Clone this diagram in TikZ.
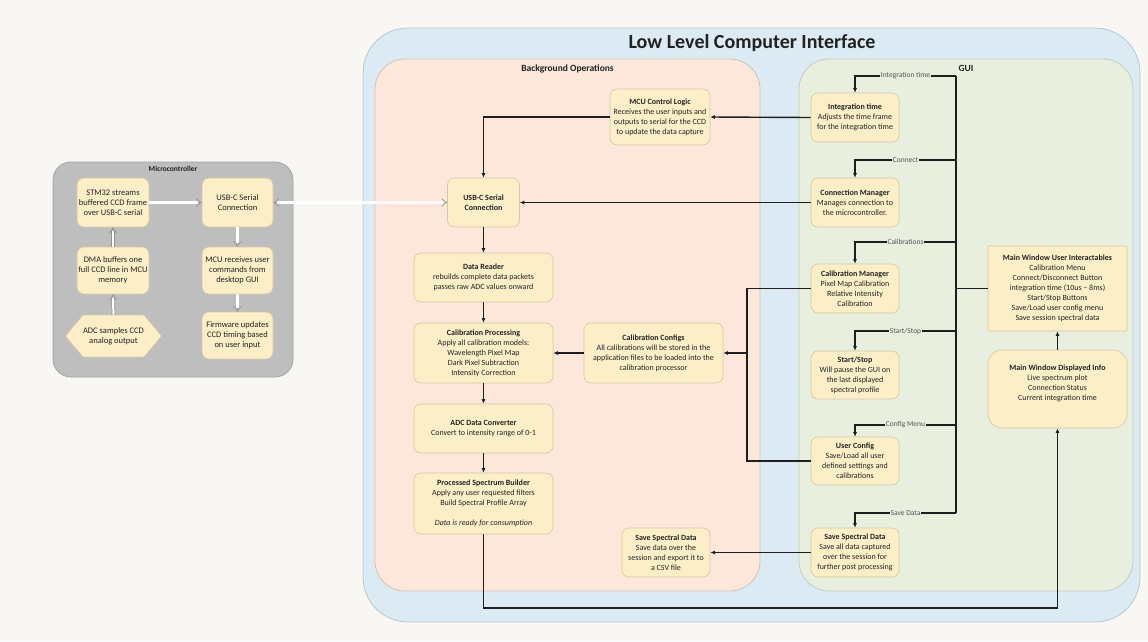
\documentclass[tikz,border=0pt]{standalone}
\usepackage{fontspec}
\setmainfont{Carlito}
\usetikzlibrary{arrows.meta,shapes.symbols}
\definecolor{pagebg}{HTML}{F8F7F3}
\definecolor{bluefill}{HTML}{DCEBF3}
\definecolor{blueline}{HTML}{B8C7CF}
\definecolor{peachfill}{HTML}{FCE7DA}
\definecolor{peachline}{HTML}{CFC3B8}
\definecolor{guifill}{HTML}{E9EFDF}
\definecolor{guiline}{HTML}{C6CCBE}
\definecolor{greyfill}{HTML}{BEBEBE}
\definecolor{greyline}{HTML}{A3A3A3}
\definecolor{boxfill}{HTML}{FCEFC8}
\definecolor{boxline}{HTML}{D5C7A1}
\definecolor{txt}{HTML}{222222}
\definecolor{wire}{HTML}{1E1E1E}
\definecolor{lbltxt}{HTML}{555555}
\definecolor{hollowline}{HTML}{8F8F8F}
\begin{document}
\begin{tikzpicture}[x=1pt,y=-1pt,
  panel/.style={rounded corners=#1, line width=0.8pt},
  box/.style={draw=boxline, fill=boxfill, rounded corners=7pt, align=center, inner sep=0pt, font=\fontsize{8}{10}\selectfont, text=txt, line width=0.6pt},
  mbox/.style={box, font=\fontsize{8.5}{10}\selectfont},
  wireline/.style={draw=wire, line width=1.4pt},
  arr/.style={wireline, -{Latex[length=4.5pt,width=4pt]}},
  hollow/.style={draw=hollowline, double=white, double distance=2.2pt, line width=0.7pt, -{Implies}},
  lbl/.style={fill=guifill, inner sep=1pt, font=\fontsize{7.5}{8}\selectfont, text=lbltxt},
  head/.style={font=\bfseries\fontsize{9.5}{11}\selectfont, text=txt},
]
\useasboundingbox (0,0) rectangle (1148,641);
\fill[pagebg] (0,0) rectangle (1148,641);

% panels
\node[panel=18pt, draw=greyline, fill=greyfill, minimum width=240, minimum height=215] (micro) at (173,269.5) {};
\node[font=\bfseries\fontsize{7.5}{9}\selectfont, text=txt] (microt) at (173,169) {Microcontroller};
\node[panel=45pt, draw=blueline, fill=bluefill, minimum width=777, minimum height=594] (lli) at (751.5,325) {};
\node[font=\bfseries\fontsize{20}{24}\selectfont, text=txt] (title) at (752,43) {Low Level Computer Interface};
\node[panel=30pt, draw=peachline, fill=peachfill, minimum width=385, minimum height=532] (bgops) at (567.5,325) {};
\node[head] (bgopst) at (567.5,69) {Background Operations};
\node[panel=30pt, draw=guiline, fill=guifill, minimum width=334, minimum height=532] (gui) at (966,325) {};
\node[head] (guit) at (966,68) {GUI};

% microcontroller boxes
\node[mbox, minimum width=72, minimum height=49] (stm) at (113,202.5) {STM32 streams\\buffered CCD frame\\over USB-C serial};
\node[mbox, minimum width=71, minimum height=49] (usbmc) at (237.5,202.5) {USB-C Serial\\Connection};
\node[mbox, minimum width=72, minimum height=47] (dma) at (113,270.5) {DMA buffers one\\full CCD line in MCU\\memory};
\node[mbox, minimum width=71, minimum height=47] (mcur) at (237.5,270.5) {MCU receives user\\commands from\\desktop GUI};
\node[mbox, shape=signal, signal to=east and west, signal pointer angle=100, rounded corners=1pt, minimum width=83, minimum height=42] (adcs) at (113.5,336) {ADC samples CCD\\analog output};
\node[mbox, minimum width=71, minimum height=47] (fw) at (237.5,335.5) {Firmware updates\\CCD timing based\\on user input};

% background operations boxes
\node[box, minimum width=100, minimum height=56] (mcu) at (660,117) {\textbf{MCU Control Logic}\\Receives the user inputs and\\outputs to serial for the CCD\\to update the data capture};
\node[box, minimum width=72, minimum height=49] (usbbg) at (483.5,202.5) {\textbf{USB-C Serial}\\\textbf{Connection}};
\node[box, minimum width=139, minimum height=49] (reader) at (483.5,277.5) {\textbf{Data Reader}\\rebuilds complete data packets\\passes raw ADC values onward};
\node[box, minimum width=139, minimum height=60] (calproc) at (483.5,353) {\textbf{Calibration Processing}\\Apply all calibration models:\\Wavelength Pixel Map\\Dark Pixel Subtraction\\Intensity Correction};
\node[box, minimum width=139, minimum height=60] (cfg) at (653.5,353) {\textbf{Calibration Configs}\\All calibrations will be stored in the\\application files to be loaded into the\\calibration processor};
\node[box, minimum width=139, minimum height=49] (adcconv) at (483.5,428.5) {\textbf{ADC Data Converter}\\Convert to intensity range of 0-1};
\node[box, minimum width=139, minimum height=61] (psb) at (483.5,503.5) {\textbf{Processed Spectrum Builder}\\Apply any user requested filters\\Build Spectral Profile Array\\[10pt]\textit{Data is ready for consumption}};
\node[box, minimum width=88, minimum height=49] (savebg) at (666,552.5) {\textbf{Save Spectral Data}\\Save data over the\\session and export it to\\a CSV file};

% GUI boxes
\node[box, minimum width=88, minimum height=49] (itime) at (855,117.5) {\textbf{Integration time}\\Adjusts the time frame\\for the integration time};
\node[box, minimum width=88, minimum height=49] (conn) at (855,202.5) {\textbf{Connection Manager}\\Manages connection to\\the microcontroller.};
\node[box, minimum width=88, minimum height=49] (calib) at (855,288.5) {\textbf{Calibration Manager}\\Pixel Map Calibration\\Relative Intensity\\Calibration};
\node[box, minimum width=88, minimum height=48] (ss) at (855,375) {\textbf{Start/Stop}\\Will pause the GUI on\\the last displayed\\spectral profile};
\node[box, minimum width=88, minimum height=48] (user) at (855,461) {\textbf{User Config}\\Save/Load all user\\defined settings and\\calibrations};
\node[box, minimum width=88, minimum height=49] (savegui) at (855,552.5) {\textbf{Save Spectral Data}\\Save all data captured\\over the session for\\further post processing};
\node[box, rounded corners=1pt, minimum width=139, minimum height=85] (mwui) at (1057.5,288.5) {\textbf{Main Window User Interactables}\\Calibration Menu\\Connect/Disconnect Button\\integration time (10us -- 8ms)\\Start/Stop Buttons\\Save/Load user config menu\\Save session spectral data};
\node[box, rounded corners=14pt, minimum width=139, minimum height=78] (mwdi) at (1057.5,389) {\textbf{Main Window Displayed Info}\\Live spectrum plot\\Connection Status\\Current integration time\\[2pt]\mbox{}};

% microcontroller hollow arrows
\draw[hollow] (stm.east) -- (usbmc.west);
\draw[hollow] (dma.north) -- (stm.south);
\draw[hollow] (adcs.north) -- (dma.south);
\draw[hollow] (usbmc.south) -- (mcur.north);
\draw[hollow] (mcur.south) -- (fw.north);
\draw[hollow, {Implies}-{Implies}] (usbmc.east) -- (usbbg.west);

% background operations flow
\draw[arr] (mcu.west) -| (usbbg.north);
\draw[arr] (usbbg.south) -- (reader.north);
\draw[arr] (reader.south) -- (calproc.north);
\draw[arr] (calproc.south) -- (adcconv.north);
\draw[arr] (adcconv.south) -- (psb.north);
\draw[arr] (cfg.west) -- (calproc.east);

% GUI to background
\draw[arr] (itime.west) -- (mcu.east);
\draw[arr] (conn.west) -- (usbbg.east);
\coordinate (cj) at (747,353);
\draw[wireline] (calib.west) -| (cj) |- (user.west);
\draw[arr] (cj) -- (cfg.east);
\draw[arr] (savegui.west) -- (savebg.east);

% trunk
\coordinate (j1) at (956,76);
\coordinate (j2) at (956,160);
\coordinate (j3) at (956,242);
\coordinate (jm) at (956,288.5);
\coordinate (j4) at (956,331);
\coordinate (j5) at (956,425);
\coordinate (j6) at (956,513);
\draw[wireline] (j1) -- (j6);
\draw[wireline] (mwui.west) -- (jm);
\draw[arr] (j1) -- node[lbl]{Integration time} (j1 -| itime) -- (itime.north);
\draw[arr] (j2) -- node[lbl]{Connect} (j2 -| conn) -- (conn.north);
\draw[arr] (j3) -- node[lbl]{Calibrations} (j3 -| calib) -- (calib.north);
\draw[arr] (j4) -- node[lbl]{Start/Stop} (j4 -| ss) -- (ss.north);
\draw[arr] (j5) -- node[lbl]{Config Menu} (j5 -| user) -- (user.north);
\draw[arr] (j6) -- node[lbl]{Save Data} (j6 -| savegui) -- (savegui.north);

% output to display
\coordinate (bj) at (770,608);
\draw[arr] (psb.south) |- (bj) -| (mwdi.south);
\draw[arr] (mwdi.north) -- (mwui.south);
\end{tikzpicture}
\end{document}
